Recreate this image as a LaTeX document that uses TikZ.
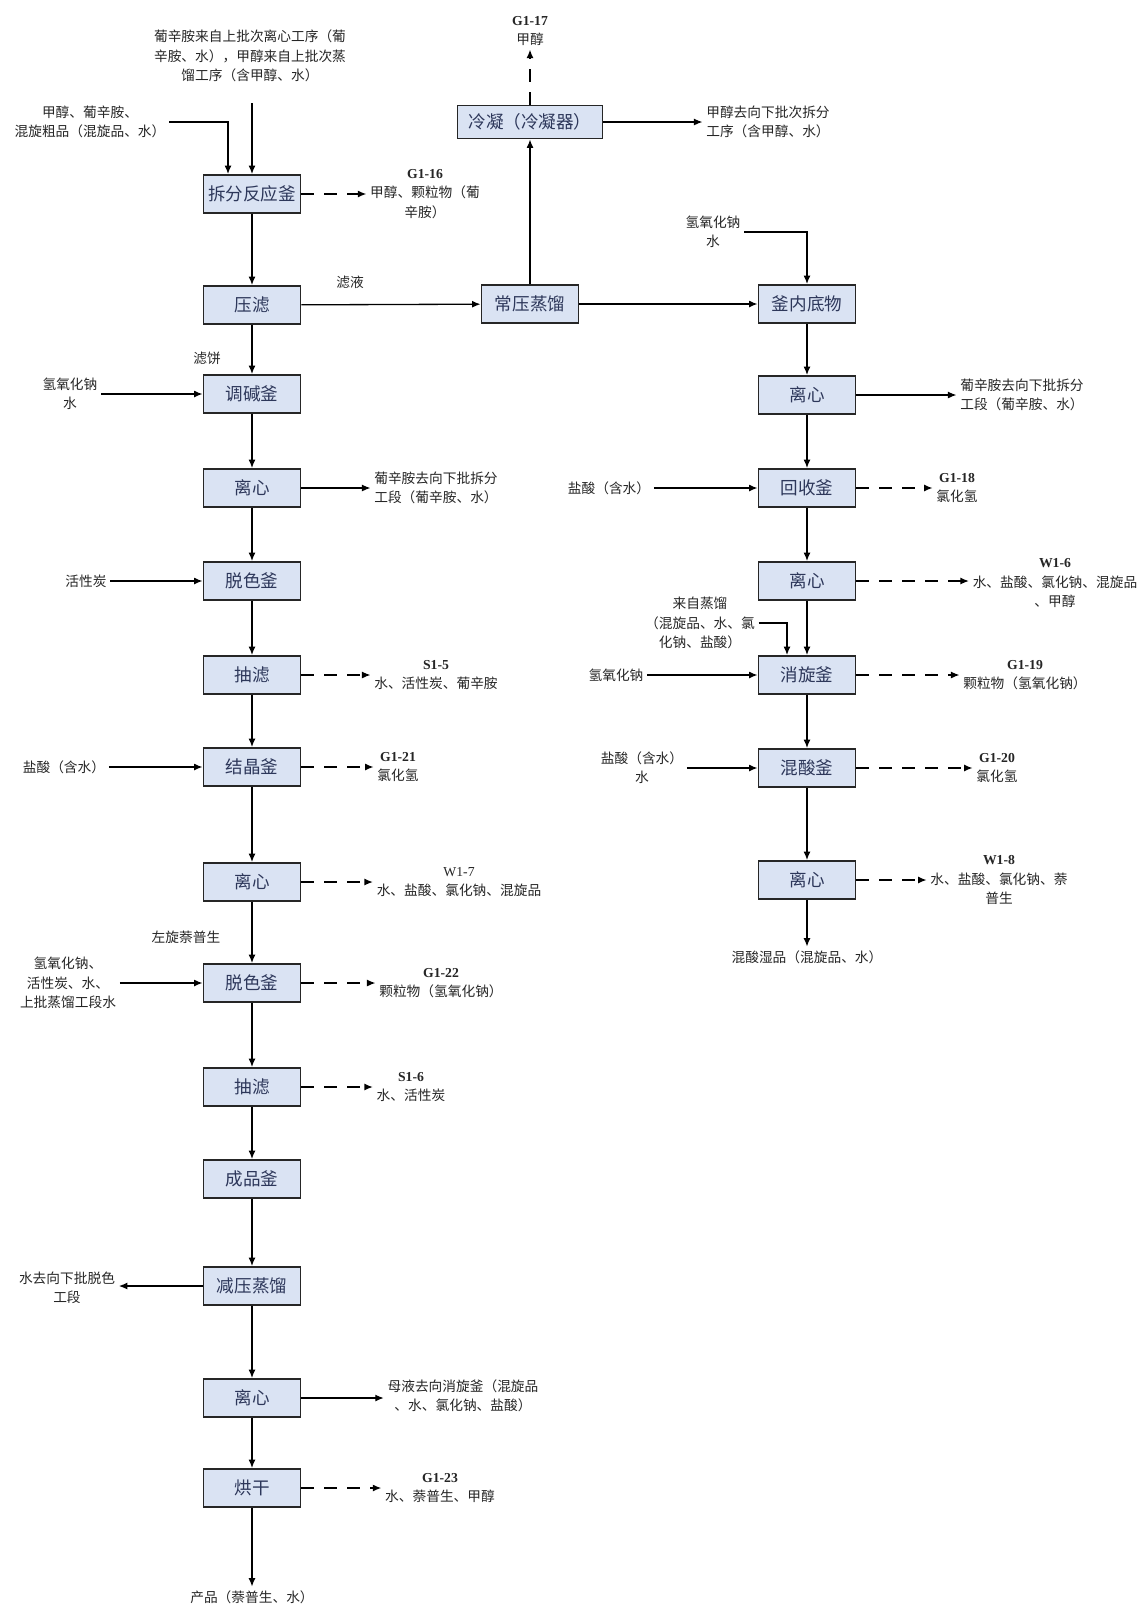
\documentclass[tikz,border=0pt]{standalone}
\usepackage{fontspec}
\setmainfont{Noto Sans CJK SC}
\newfontfamily\latfont{Liberation Serif}
\usepackage{xcolor}
\usepackage{tikz}
\usetikzlibrary{arrows.meta}
\definecolor{boxfill}{RGB}{218,227,243}
\definecolor{boxtext}{RGB}{45,55,90}
\tikzset{
  proc/.style={rectangle,draw=black!85,line width=1.1pt,fill=boxfill,text=boxtext,minimum width=1.94cm,minimum height=0.76cm,inner sep=1pt,font=\fontsize{10}{12}\selectfont},
  lab/.style={align=center,inner sep=2pt,font=\fontsize{7.8}{11}\selectfont,text=black!85},
  flow/.style={line width=.75pt,-{Latex[length=1.7mm,width=1.4mm]}},
  emis/.style={flow,dash pattern=on 2.6mm off 2mm}
}
\newcommand{\gid}[1]{{\latfont\bfseries #1}}

\begin{document}
\begin{tikzpicture}[x=0.02cm,y=-0.02cm]
  \path[fill=white,use as bounding box] (0,0) rectangle (1148,1617);

  % left column
  \node[proc] (cf)  at (252,194)  {拆分反应釜};
  \node[proc] (yl)  at (252,305)  {压滤};
  \node[proc] (tj)  at (252,394)  {调碱釜};
  \node[proc] (lx1) at (252,488)  {离心};
  \node[proc] (ts1) at (252,581)  {脱色釜};
  \node[proc] (cl1) at (252,675)  {抽滤};
  \node[proc] (jj)  at (252,767)  {结晶釜};
  \node[proc] (lx2) at (252,882)  {离心};
  \node[proc] (ts2) at (252,983)  {脱色釜};
  \node[proc] (cl2) at (252,1087) {抽滤};
  \node[proc] (cp)  at (252,1179) {成品釜};
  \node[proc] (jy)  at (252,1286) {减压蒸馏};
  \node[proc] (lx3) at (252,1398) {离心};
  \node[proc] (hg)  at (252,1488) {烘干};

  % middle
  \node[proc] (cy) at (530,304) {常压蒸馏};
  \node[proc,minimum width=2.9cm,minimum height=0.66cm] (ln) at (530,122) {冷凝（冷凝器）};

  % right column
  \node[proc] (fn)  at (807,304) {釜内底物};
  \node[proc] (lx4) at (807,395) {离心};
  \node[proc] (hs)  at (807,488) {回收釜};
  \node[proc] (lx5) at (807,581) {离心};
  \node[proc] (xx)  at (807,675) {消旋釜};
  \node[proc] (sj)  at (807,768) {混酸釜};
  \node[proc] (lx6) at (807,880) {离心};

  % feeds and outputs, left
  \node[lab] (top1) at (250,56) {葡辛胺来自上批次离心工序（葡\\辛胺、水），甲醇来自上批次蒸\\馏工序（含甲醇、水）};
  \coordinate (topin) at (252,103);
  \node[lab] (in1) at (90,122) {甲醇、葡辛胺、\\混旋粗品（混旋品、水）};
  \node[lab] (g16) at (425,194) {\gid{G1-16}\\甲醇、颗粒物（葡\\辛胺）};
  \node[lab] (ly) at (350,282) {滤液};
  \node[lab] (lb) at (207,358) {滤饼};
  \node[lab] (naoh1) at (70,394) {氢氧化钠\\水};
  \node[lab] (out1) at (436,488) {葡辛胺去向下批拆分\\工段（葡辛胺、水）};
  \node[lab] (hxt) at (86,581) {活性炭};
  \node[lab] (s15) at (436,675) {\gid{S1-5}\\水、活性炭、葡辛胺};
  \node[lab] (hcl1) at (64,767) {盐酸（含水）};
  \node[lab] (g21) at (398,767) {\gid{G1-21}\\氯化氢};
  \node[lab] (w17) at (459,882) {{\latfont W1-7}\\水、盐酸、氯化钠、混旋品};
  \node[lab] (zx) at (186,937) {左旋萘普生};
  \node[lab] (in2) at (68,983) {氢氧化钠、\\活性炭、水、\\上批蒸馏工段水};
  \node[lab] (g22) at (441,983) {\gid{G1-22}\\颗粒物（氢氧化钠）};
  \node[lab] (s16) at (411,1087) {\gid{S1-6}\\水、活性炭};
  \node[lab] (wq) at (67,1288) {水去向下批脱色\\工段};
  \node[lab] (mo) at (463,1396) {母液去向消旋釜（混旋品\\、水、氯化钠、盐酸）};
  \node[lab] (g23) at (440,1488) {\gid{G1-23}\\水、萘普生、甲醇};
  \node[lab] (cpr) at (252,1597) {产品（萘普生、水）};

  % feeds and outputs, middle and right
  \node[lab] (g17) at (530,31) {\gid{G1-17}\\甲醇};
  \node[lab] (mq) at (768,122) {甲醇去向下批次拆分\\工序（含甲醇、水）};
  \node[lab] (naoh2) at (713,232) {氢氧化钠\\水};
  \node[lab] (out2) at (1022,395) {葡辛胺去向下批拆分\\工段（葡辛胺、水）};
  \node[lab] (hcl2) at (609,488) {盐酸（含水）};
  \node[lab] (g18) at (957,488) {\gid{G1-18}\\氯化氢};
  \node[lab] (w16) at (1055,583) {\gid{W1-6}\\水、盐酸、氯化钠、混旋品\\、甲醇};
  \node[lab] (lzl) at (700,623) {来自蒸馏\\（混旋品、水、氯\\化钠、盐酸）};
  \node[lab] (naoh3) at (616,675) {氢氧化钠};
  \node[lab] (g19) at (1025,675) {\gid{G1-19}\\颗粒物（氢氧化钠）};
  \node[lab] (hcl3) at (642,768) {盐酸（含水）\\水};
  \node[lab] (g20) at (997,768) {\gid{G1-20}\\氯化氢};
  \node[lab] (w18) at (999,880) {\gid{W1-8}\\水、盐酸、氯化钠、萘\\普生};
  \node[lab] (sp) at (807,957) {混酸湿品（混旋品、水）};

  % main flow
  \draw[flow] (topin) -- (cf);
  \draw[flow] (in1.east) -| ([xshift=-0.48cm]cf.north);
  \draw[flow] (cf) -- (yl);
  \draw[flow] (yl) -- (tj);
  \draw[flow] (tj) -- (lx1);
  \draw[flow] (lx1) -- (ts1);
  \draw[flow] (ts1) -- (cl1);
  \draw[flow] (cl1) -- (jj);
  \draw[flow] (jj) -- (lx2);
  \draw[flow] (lx2) -- (ts2);
  \draw[flow] (ts2) -- (cl2);
  \draw[flow] (cl2) -- (cp);
  \draw[flow] (cp) -- (jy);
  \draw[flow] (jy) -- (lx3);
  \draw[flow] (lx3) -- (hg);
  \draw[flow] (hg) -- (hg |- cpr.north);
  \draw[flow] (yl) -- (cy);
  \draw[flow] (cy) -- (ln);
  \draw[emis] (ln) -- (ln |- g17.south);
  \draw[flow] (ln) -- (mq);
  \draw[flow] (cy) -- (fn);
  \draw[flow] (naoh2.east) -| (fn.north);
  \draw[flow] (fn) -- (lx4);
  \draw[flow] (lx4) -- (hs);
  \draw[flow] (hs) -- (lx5);
  \draw[flow] (lx5) -- (xx);
  \draw[flow] (lzl.east) -| ([xshift=-0.4cm]xx.north);
  \draw[flow] (xx) -- (sj);
  \draw[flow] (sj) -- (lx6);
  \draw[flow] (lx6) -- (lx6 |- sp.north);

  % side feeds
  \draw[flow] (naoh1) -- (tj);
  \draw[flow] (hxt) -- (ts1);
  \draw[flow] (hcl1) -- (jj);
  \draw[flow] (in2) -- (ts2);
  \draw[flow] (hcl2) -- (hs);
  \draw[flow] (naoh3) -- (xx);
  \draw[flow] (hcl3) -- (sj);

  % side outputs
  \draw[emis] (cf.east) -- (cf.east -| g16.west);
  \draw[flow] (lx1.east) -- (lx1.east -| out1.west);
  \draw[emis] (cl1.east) -- (cl1.east -| s15.west);
  \draw[emis] (jj.east) -- (jj.east -| g21.west);
  \draw[emis] (lx2.east) -- (lx2.east -| w17.west);
  \draw[emis] (ts2.east) -- (ts2.east -| g22.west);
  \draw[emis] (cl2.east) -- (cl2.east -| s16.west);
  \draw[flow] (jy.west) -- (jy.west -| wq.east);
  \draw[flow] (lx3.east) -- (lx3.east -| mo.west);
  \draw[emis] (hg.east) -- (hg.east -| g23.west);
  \draw[flow] (lx4.east) -- (lx4.east -| out2.west);
  \draw[emis] (hs.east) -- (hs.east -| g18.west);
  \draw[emis] (lx5.east) -- (lx5.east -| w16.west);
  \draw[emis] (xx.east) -- (xx.east -| g19.west);
  \draw[emis] (sj.east) -- (sj.east -| g20.west);
  \draw[emis] (lx6.east) -- (lx6.east -| w18.west);
\end{tikzpicture}
\end{document}
